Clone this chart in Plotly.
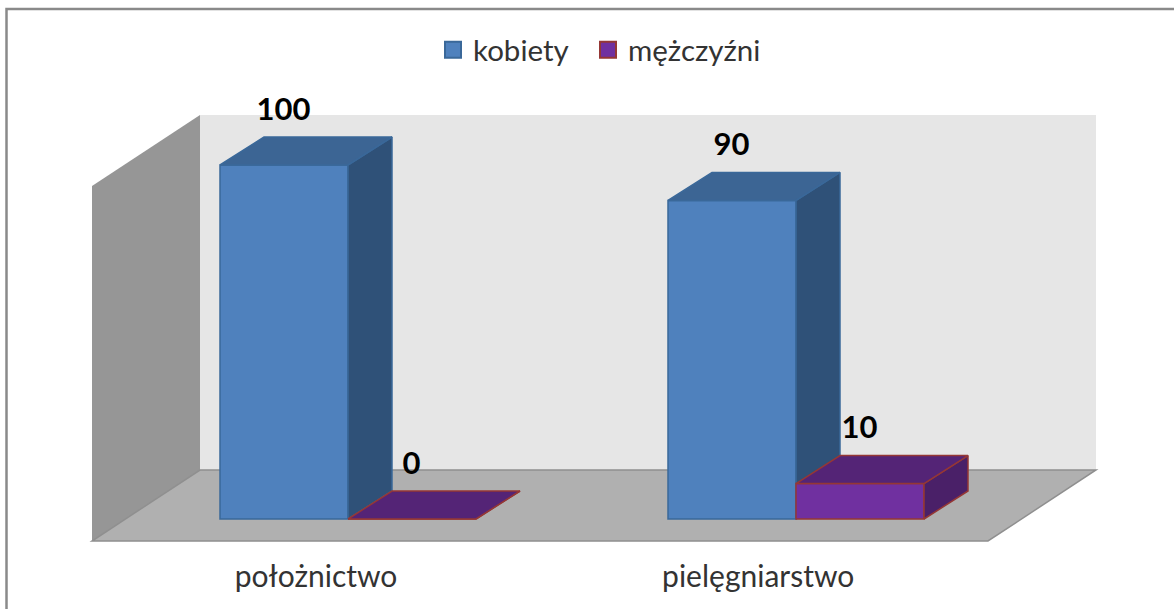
import plotly.graph_objects as go

categories = ["położnictwo", "pielęgniarstwo"]
kobiety = [100, 90]
mezczyzni = [0, 10]

W, H = 1174, 609
PLOT_BOTTOM = 556
PX_X = 448.0      # pixels per category
PX_Y = 3.54       # pixels per value unit
X0_PX, Y0_PX = 316.0, 519.0
xr = [(0 - X0_PX) / PX_X, (W - X0_PX) / PX_X]
yr = [(Y0_PX - PLOT_BOTTOM) / PX_Y, Y0_PX / PX_Y]

BAR_W = 128 / PX_X
BAR_DX, BAR_DY = 44 / PX_X, 28 / PX_Y
WALL_DX, WALL_DY = 108 / PX_X, 71 / PX_Y
FLOOR_Y = -22 / PX_Y
WALL_TOP = 333 / PX_Y
OFF_K, OFF_M = -96 / PX_X, 32 / PX_X
LABEL_LIFT = 53 / PX_Y
LABEL_NUDGE = -0.5 / PX_X
TICK_POS = [0, 0.987]

FONT = "Lato"
fig = go.Figure()


def face(x0, y0, x1, y1, x2, y2, x3, y3):
    return dict(type="path", layer="below", xref="x", yref="y",
                path=f"M{x0},{y0}L{x1},{y1}L{x2},{y2}L{x3},{y3}Z")


L, R = -0.5, 1.5
fig.add_shape(face(L, FLOOR_Y, L + WALL_DX, FLOOR_Y + WALL_DY, L + WALL_DX, WALL_TOP + WALL_DY, L, WALL_TOP),
              fillcolor="#969696", line=dict(width=0))
fig.add_shape(face(L + WALL_DX, FLOOR_Y + WALL_DY, R + WALL_DX, FLOOR_Y + WALL_DY, R + WALL_DX, WALL_TOP + WALL_DY, L + WALL_DX, WALL_TOP + WALL_DY),
              fillcolor="#E6E6E6", line=dict(width=0))
fig.add_shape(face(L, FLOOR_Y, R, FLOOR_Y, R + WALL_DX, FLOOR_Y + WALL_DY, L + WALL_DX, FLOOR_Y + WALL_DY),
              fillcolor="#B0B0B0", line=dict(width=1.5, color="#8F8F8F"))
# outer frame: only the left and top edges fall inside the window
fig.add_shape(type="rect", layer="below", xref="paper", yref="paper",
              x0=6.5 / W, x1=1.1, y0=-0.3, y1=(PLOT_BOTTOM - 9) / PLOT_BOTTOM,
              line=dict(color="#8A8A8A", width=2.5), fillcolor="rgba(0,0,0,0)")

series = [
    ("kobiety", kobiety, OFF_K, "#4F81BD", "#3C6594", "#2F5178", "#3A6899", "x", "y", "legend"),
    ("mężczyźni", mezczyzni, OFF_M, "#7030A0", "#542476", "#4A2068", "#953735", "x2", "y2", "legend2"),
]
xs = list(range(len(categories)))

for name, vals, off, front, top, side, edge, xa, ya, leg in series:
    fig.add_trace(go.Bar(x=xs, y=vals, width=BAR_W, offset=off, name=name, showlegend=False, xaxis=xa, yaxis=ya,
                         marker=dict(color=front, line=dict(color=edge, width=1.5)), hoverinfo="skip"))
    tx, ty, sx, sy = [], [], [], []
    for c, v in zip(xs, vals):
        a, b = c + off, c + off + BAR_W
        tx += [a, b, b + BAR_DX, a + BAR_DX, a, None]
        ty += [v, v, v + BAR_DY, v + BAR_DY, v, None]
        sx += [b, b + BAR_DX, b + BAR_DX, b, b, None]
        sy += [0, BAR_DY, v + BAR_DY, v, 0, None]
    for px, py, col in ((sx, sy, side), (tx, ty, top)):
        fig.add_trace(go.Scatter(x=px, y=py, mode="lines", fill="toself", fillcolor=col, xaxis=xa, yaxis=ya,
                                 line=dict(color=edge, width=1.5), showlegend=False, hoverinfo="skip"))

for name, vals, off, front, top, side, edge, xa, ya, leg in series:
    fig.add_trace(go.Scatter(x=[c + off + BAR_W / 2 + LABEL_NUDGE for c in xs], y=[v + LABEL_LIFT for v in vals],
                             mode="text", text=[str(v) for v in vals], textposition="middle center",
                             xaxis="x2", yaxis="y2",
                             textfont=dict(family=FONT, size=31, color="#000000", weight="bold"),
                             showlegend=False, hoverinfo="skip"))
    fig.add_trace(go.Scatter(x=[None], y=[None], mode="markers", name=name, legend=leg,
                             marker=dict(symbol="square", size=16, color=front, line=dict(color=edge, width=2))))

legend_common = dict(orientation="h", xanchor="left", y=(PLOT_BOTTOM - 50) / PLOT_BOTTOM, yanchor="middle",
                     font=dict(family=FONT, size=29.5, color="#333333"), bgcolor="rgba(0,0,0,0)")

fig.update_layout(
    width=W, height=H, margin=dict(l=0, r=0, t=0, b=H - PLOT_BOTTOM),
    plot_bgcolor="white", paper_bgcolor="white", barmode="overlay",
    xaxis=dict(range=xr, tickmode="array", tickvals=TICK_POS, ticktext=categories, showgrid=False,
               zeroline=False, showline=False, ticks="", tickfont=dict(family=FONT, size=30, color="#333333")),
    yaxis=dict(range=yr, visible=False),
    xaxis2=dict(range=xr, overlaying="x", visible=False),
    yaxis2=dict(range=yr, overlaying="y", visible=False),
    showlegend=True,
    legend=dict(x=433 / W, **legend_common),
    legend2=dict(x=588 / W, **legend_common),
)

fig.write_html("out.html", config={"displayModeBar": False},
               post_script="document.body.style.margin='0';window.dispatchEvent(new Event('resize'));")
